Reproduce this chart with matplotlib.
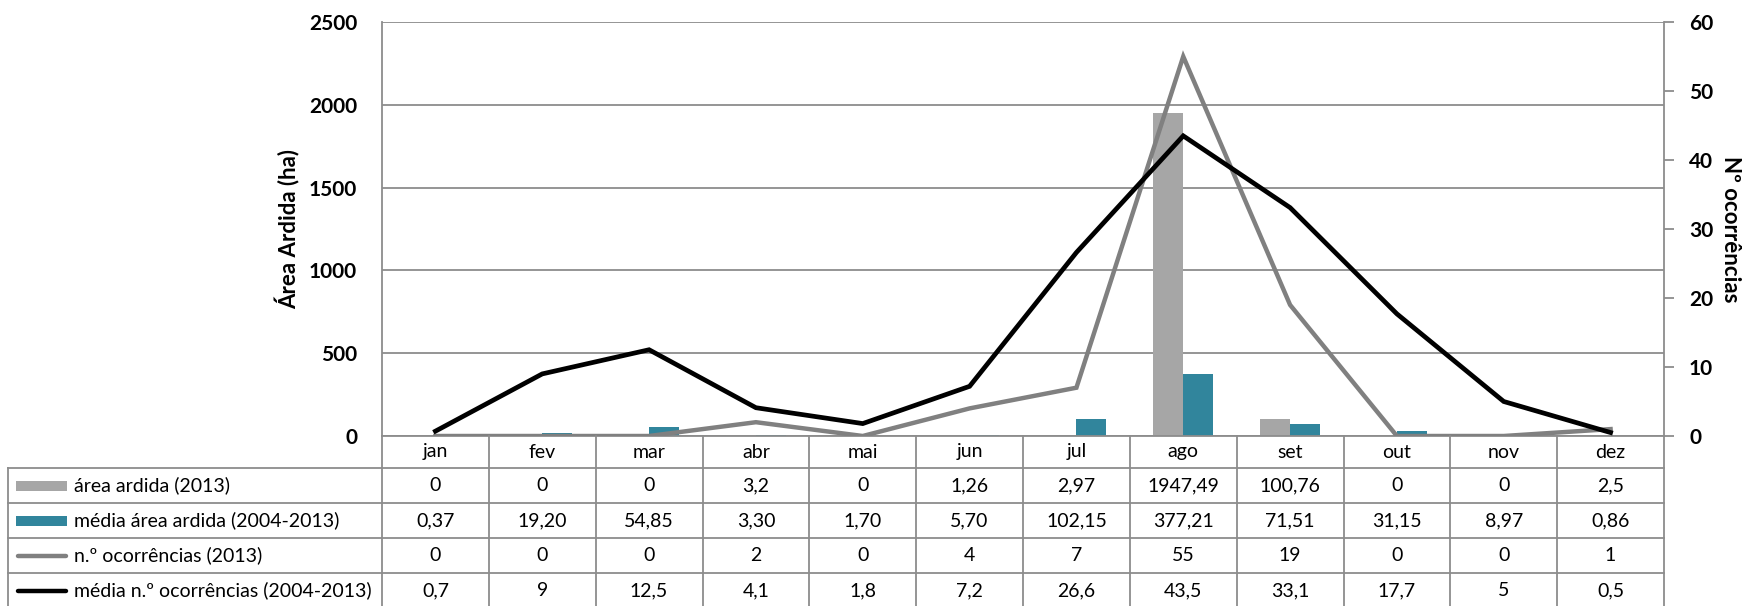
import matplotlib
matplotlib.use("Agg")
import matplotlib.pyplot as plt
from matplotlib.lines import Line2D
from matplotlib.patches import Rectangle
import numpy as np

plt.rcParams['font.family'] = ['Lato', 'DejaVu Sans']

# data
months = ['jan', 'fev', 'mar', 'abr', 'mai', 'jun', 'jul', 'ago', 'set', 'out', 'nov', 'dez']
area_2013 = [0, 0, 0, 3.2, 0, 1.26, 2.97, 1947.49, 100.76, 0, 0, 2.5]
media_area = [0.37, 19.20, 54.85, 3.30, 1.70, 5.70, 102.15, 377.21, 71.51, 31.15, 8.97, 0.86]
ocorr_2013 = [0, 0, 0, 2, 0, 4, 7, 55, 19, 0, 0, 1]
media_ocorr = [0.7, 9, 12.5, 4.1, 1.8, 7.2, 26.6, 43.5, 33.1, 17.7, 5, 0.5]

c_area = '#A6A6A6'
c_media_area = '#31859C'
c_ocorr = '#808080'
c_media_ocorr = '#000000'
c_grid = '#8C8C8C'

W, H = 1746, 606
fig = plt.figure(figsize=(W / 100, H / 100), dpi=100)

# plot area in pixels
left, right, top, bottom = 382, 1664, 22, 436
ax = fig.add_axes([left / W, 1 - bottom / H, (right - left) / W, (bottom - top) / H])

x = np.arange(len(months))
bw = 0.28
ax.bar(x - bw / 2, area_2013, width=bw, color=c_area, zorder=2)
ax.bar(x + bw / 2, media_area, width=bw, color=c_media_area, zorder=2)
ax.set_xlim(-0.5, 11.5)
ax.set_ylim(0, 2500)
ax.set_yticks(range(0, 2501, 500))
ax.set_xticks([])
ax.yaxis.grid(True, color=c_grid, lw=1.3)
ax.set_axisbelow(True)
ax.tick_params(axis='y', length=0, pad=18, labelsize=15)
for lab in ax.get_yticklabels():
    lab.set_fontweight('bold')
for s in ['top', 'right']:
    ax.spines[s].set_visible(False)
for s in ['left', 'bottom']:
    ax.spines[s].set_color(c_grid)
    ax.spines[s].set_linewidth(1.3)
ax.set_ylabel('Área Ardida (ha)', fontsize=16, fontweight='bold', labelpad=6)

ax2 = ax.twinx()
ax2.plot(x, ocorr_2013, color=c_ocorr, lw=3.2, solid_joinstyle='miter')
ax2.plot(x, media_ocorr, color=c_media_ocorr, lw=3.4, solid_joinstyle='miter')
ax2.set_ylim(0, 60)
ax2.set_yticks(range(0, 61, 10))
ax2.tick_params(axis='y', direction='out', length=7, width=1.3, color=c_grid, pad=11, labelsize=15)
for lab in ax2.get_yticklabels():
    lab.set_fontweight('bold')
for s in ['top', 'left', 'bottom']:
    ax2.spines[s].set_visible(False)
ax2.spines['right'].set_color(c_grid)
ax2.spines['right'].set_linewidth(1.3)
ax2.set_ylabel('Nº ocorrências', fontsize=16, fontweight='bold', rotation=-90, labelpad=20)

# data table under the chart
def fx(px):
    return px / W

def fy(py):
    return 1 - py / H

def hline(x0, x1, y):
    fig.add_artist(Line2D([fx(x0), fx(x1)], [fy(y), fy(y)], color=c_grid, lw=1.3))

def vline(xp, y0, y1):
    fig.add_artist(Line2D([fx(xp), fx(xp)], [fy(y0), fy(y1)], color=c_grid, lw=1.3))

tab_left = 8
col_w = (right - left) / 12
rows_y = [436, 468, 503, 538, 573, 610]

for i in range(13):
    vline(left + i * col_w, rows_y[0], rows_y[-1])
vline(tab_left, rows_y[1], rows_y[-1])
for yy in rows_y[1:-1]:
    hline(tab_left, right, yy)

fs = 14
for i, m in enumerate(months):
    fig.text(fx(left + (i + 0.5) * col_w), fy((rows_y[0] + rows_y[1]) / 2), m,
             ha='center', va='center', fontsize=fs)

def fmt(v, dec=None):
    s = f'{v:.{dec}f}' if dec is not None else f'{v:g}'
    return s.replace('.', ',')

series = [
    ('área ardida (2013)', area_2013, None, 'bar', c_area),
    ('média área ardida (2004-2013)', media_area, 2, 'bar', c_media_area),
    ('n.º ocorrências (2013)', ocorr_2013, None, 'line', c_ocorr),
    ('média n.º ocorrências (2004-2013)', media_ocorr, None, 'line', c_media_ocorr),
]
for r, (name, vals, dec, kind, col) in enumerate(series):
    yc = (rows_y[r + 1] + rows_y[r + 2]) / 2
    if r == 3:
        yc = rows_y[4] + 17.5
    if kind == 'bar':
        fig.add_artist(Rectangle((fx(16), fy(yc + 5)), fx(67) - fx(16), (10 / H),
                                 facecolor=col, edgecolor='none'))
    else:
        fig.add_artist(Line2D([fx(18), fx(66)], [fy(yc), fy(yc)], color=col, lw=3.2,
                              solid_capstyle='round'))
    fig.text(fx(74), fy(yc), name, ha='left', va='center', fontsize=fs)
    for i, v in enumerate(vals):
        fig.text(fx(left + (i + 0.5) * col_w), fy(yc), fmt(v, dec),
                 ha='center', va='center', fontsize=fs)

fig.savefig('out.png', dpi=100)
